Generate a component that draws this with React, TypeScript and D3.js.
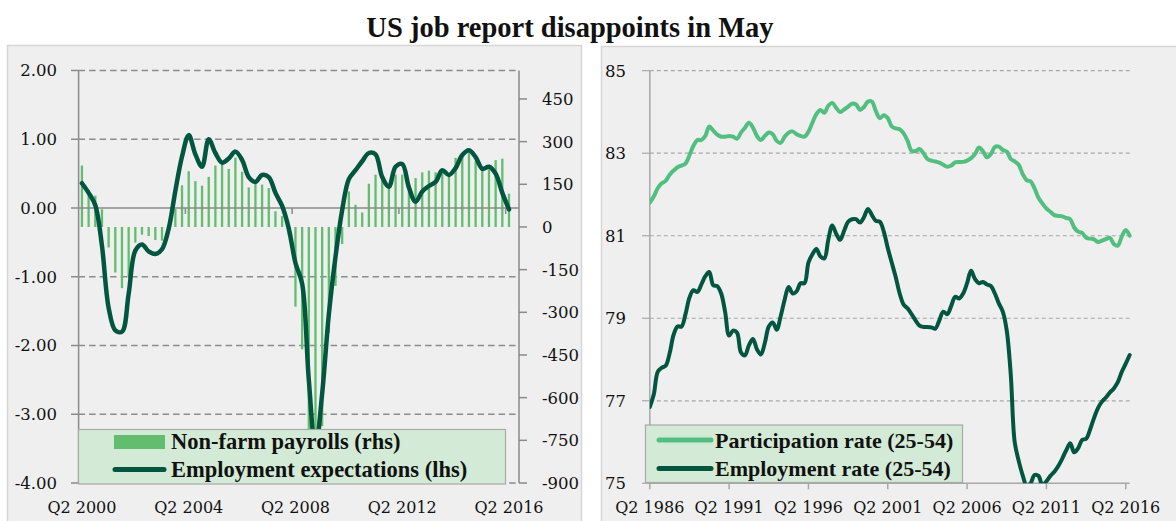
import * as d3 from "d3";

// ---- data ----
const leftTickLabels = ["Q2 2000", "Q2 2004", "Q2 2008", "Q2 2012", "Q2 2016"];
const rightTickLabels = ["Q2 1986", "Q2 1991", "Q2 1996", "Q2 2001", "Q2 2006", "Q2 2011", "Q2 2016"];
const lhsTicks = [2, 1, 0, -1, -2, -3, -4];
const rhsTicks = [450, 300, 150, 0, -150, -300, -450, -600, -750, -900];
const rateTicks = [85, 83, 81, 79, 77, 75];

// Non-farm payrolls, quarterly avg (thousands), Q2 2000 - Q2 2016
const payrolls = [
  216, 130, 110, 62, -72, -160, -215, -178, -55, -27,
  -32, -46, -48, -10, 63, 146, 196, 161, 145, 176,
  216, 226, 204, 244, 194, 139, 155, 149, 137, 55,
  38, -30, -280, -430, -740, -800, -700, -372, -207, -60,
  125, 78, 51, 152, 184, 169, 143, 184, 184, 149,
  172, 192, 198, 192, 202, 190, 243, 260, 266, 231,
  202, 202, 235, 240, 117,
];

// Employment expectations (std. dev.), same quarters
const expectations = [
  0.36, 0.22, 0.04, -0.55, -1.45, -1.78, -1.8, -1.25, -0.62, -0.53,
  -0.63, -0.67, -0.6, -0.3, 0.25, 0.75, 1.06, 0.78, 0.6, 1.0,
  0.8, 0.66, 0.72, 0.82, 0.7, 0.45, 0.38, 0.48, 0.45, 0.22,
  0.03, -0.3, -0.8, -1.1, -2.5, -3.5, -2.7, -1.55, -0.71, -0.03,
  0.42, 0.55, 0.68, 0.8, 0.78, 0.45, 0.31, 0.6, 0.64, 0.3,
  0.09, 0.24, 0.32, 0.38, 0.55, 0.48, 0.58, 0.77, 0.84, 0.74,
  0.57, 0.6, 0.5, 0.22, -0.02,
];

// Participation rate (25-54), quarterly from Q2 1986
const participation = [
  81.8, 81.95, 82.15, 82.27, 82.33, 82.48, 82.58, 82.66, 82.7, 82.75,
  82.95, 83.18, 83.32, 83.32, 83.42, 83.65, 83.55, 83.45, 83.4, 83.4,
  83.42, 83.4, 83.35, 83.5, 83.62, 83.74, 83.62, 83.42, 83.32, 83.42,
  83.5, 83.46, 83.3, 83.25, 83.4, 83.5, 83.53, 83.46, 83.42, 83.4,
  83.52, 83.74, 83.95, 84.05, 83.98, 84.15, 84.22, 84.1, 84.0, 84.06,
  84.13, 84.2, 84.18, 84.05, 84.12, 84.25, 84.25, 84.02, 83.85, 83.92,
  83.85, 83.65, 83.6, 83.58, 83.48, 83.3, 83.06, 83.05, 83.1, 83.0,
  82.86, 82.82, 82.8, 82.77, 82.72, 82.67, 82.7, 82.78, 82.79, 82.79,
  82.82, 82.88, 82.98, 83.14, 83.05, 82.9, 82.98, 83.15, 83.16, 83.08,
  83.04, 82.86, 82.8, 82.72, 82.5, 82.35, 82.32, 82.15, 81.92, 81.78,
  81.66, 81.58, 81.5, 81.48, 81.47, 81.43, 81.4, 81.2, 81.1, 81.07,
  80.95, 80.93, 80.91, 80.85, 80.88, 80.92, 80.95, 80.8, 80.76, 80.98,
  81.14, 81.0,
];

// Employment rate (25-54), quarterly from Q2 1986
const employment = [
  76.85, 77.15, 77.7, 77.8, 77.85, 78.15, 78.6, 78.8, 78.8, 79.1,
  79.5, 79.68, 79.64, 79.82, 80.02, 80.12, 79.8, 79.78, 79.6, 79.15,
  78.58, 78.7, 78.65, 78.17, 78.1, 78.35, 78.5, 78.25, 78.12, 78.4,
  78.8, 78.9, 78.72, 79.05, 79.45, 79.76, 79.6, 79.65, 79.85, 79.85,
  80.35, 80.55, 80.68, 80.5, 80.45, 80.9, 81.25, 81.05, 80.9, 81.12,
  81.34, 81.4, 81.4, 81.32, 81.45, 81.65, 81.5, 81.36, 81.34, 81.1,
  80.7, 80.35, 80.0, 79.6, 79.33, 79.24, 79.1, 78.95, 78.82, 78.79,
  78.79, 78.78, 78.75, 78.95, 79.16, 79.1, 79.3, 79.52, 79.48, 79.6,
  79.85, 80.15, 79.95, 79.85, 79.88, 79.82, 79.78, 79.6, 79.36, 79.16,
  78.7, 77.65, 76.0, 75.55, 75.2, 74.95, 75.0, 75.2, 75.18, 74.95,
  75.05, 75.18, 75.28, 75.42, 75.6, 75.8, 75.97, 75.75, 75.85, 76.05,
  76.08, 76.3, 76.58, 76.82, 76.98, 77.08, 77.2, 77.3, 77.45, 77.7,
  77.9, 78.11,
];

function quarterLabels(year: number, q: number, n: number): string[] {
  const out: string[] = [];
  for (let i = 0; i < n; i++) {
    const k = q - 1 + i;
    out.push(`Q${(k % 4) + 1} ${year + Math.floor(k / 4)}`);
  }
  return out;
}

// one extra empty slot after the last observation (Q3 2016)
const leftQuarters = quarterLabels(2000, 2, payrolls.length + 1);
const rightQuarters = quarterLabels(1986, 2, participation.length);

const C = {
  panel: "#efefef",
  panelBorder: "#d6d6d6",
  bar: "#62bd6f",
  dark: "#02563f",
  light: "#52bf80",
  axis: "#8a8a8a",
  grid: "#8c8c8c",
  grid2: "#a8a8a8",
  legend: "#d3ebd6",
  legendBorder: "#a9a9a9",
  text: "#111",
};

const TICK_FONT = "'DejaVu Serif', serif";
const BOLD_FONT = "'Liberation Serif', 'DejaVu Serif', serif";

const App = () => {
  // ---- left panel scales ----
  const xL = d3.scaleBand<string>().domain(leftQuarters).range([78.6, 519]).padding(0);
  const cx = (i: number) => (xL(leftQuarters[i]) as number) + xL.bandwidth() / 2;
  const yL = d3.scaleLinear().domain([-4, 2]).range([483, 70.5]);
  const yR = d3.scaleLinear().domain([-900, 550]).range([483, 70.5]);
  const lineL = d3
    .line<number>()
    .x((_, i) => cx(i))
    .y((d) => yL(d))
    .curve(d3.curveCatmullRom.alpha(0.5));

  const leftTickIdx = leftTickLabels.map((l) => leftQuarters.indexOf(l));

  // ---- right panel scales ----
  const xP = d3.scalePoint<string>().domain(rightQuarters).range([649.8, 1129.7]);
  const yP = d3.scaleLinear().domain([75, 85]).range([483.3, 70.7]);
  const lineP = d3
    .line<number>()
    .x((_, i) => xP(rightQuarters[i]) as number)
    .y((d) => yP(d))
    .curve(d3.curveCatmullRom.alpha(0.5));

  const [xl0, xl1] = xL.range();
  const [xp0, xp1] = xP.range();

  return (
    <svg
      width={1176}
      height={521}
      style={{ position: "absolute", left: 0, top: 0, background: "#fff" }}
    >
      <defs>
        <clipPath id="clipP">
          <rect x={xp0} y={yP(85) - 5} width={xp1 - xp0 + 6} height={yP(75) - yP(85) + 5} />
        </clipPath>
      </defs>

      {/* title */}
      <text
        x={570}
        y={37}
        textAnchor="middle"
        fontFamily={BOLD_FONT}
        fontWeight="bold"
        fontSize={28.5}
        fill={C.text}
      >
        US job report disappoints in May
      </text>

      {/* ===== left panel ===== */}
      <rect x={7.5} y={45.5} width={574} height={490} fill={C.panel} stroke={C.panelBorder} strokeWidth={1.5} />

      {lhsTicks.filter((t) => t !== 0).map((t) => (
        <line key={`g${t}`} x1={xl0} x2={xl1} y1={yL(t)} y2={yL(t)} stroke={C.grid} strokeWidth={1.5} strokeDasharray="6.5,4" />
      ))}
      {lhsTicks.map((t) => (
        <g key={`lt${t}`}>
          <line x1={71} x2={xl0} y1={yL(t)} y2={yL(t)} stroke={C.axis} strokeWidth={1.5} />
          <text x={57} y={yL(t)} dy="0.36em" textAnchor="end" fontFamily={TICK_FONT} fontSize={16.5} fill={C.text}>
            {t.toFixed(2)}
          </text>
        </g>
      ))}
      {rhsTicks.map((t) => (
        <g key={`rt${t}`}>
          <line x1={xl1} x2={xl1 + 8} y1={yR(t)} y2={yR(t)} stroke={C.axis} strokeWidth={1.5} />
          <text x={542} y={yR(t)} dy="0.36em" textAnchor="start" fontFamily={TICK_FONT} fontSize={16.5} fill={C.text}>
            {t}
          </text>
        </g>
      ))}

      {/* payroll bars */}
      {payrolls.map((v, i) => (
        <rect
          key={`b${i}`}
          x={cx(i) - 1.15}
          width={2.3}
          y={Math.min(yR(0), yR(v))}
          height={Math.abs(yR(v) - yR(0))}
          fill={C.bar}
        />
      ))}

      {/* axes */}
      <line x1={xl0} x2={xl0} y1={yL(2)} y2={yL(-4)} stroke={C.axis} strokeWidth={1.5} />
      <line x1={xl1} x2={xl1} y1={yL(2)} y2={yL(-4)} stroke={C.axis} strokeWidth={1.5} />
      <line x1={xl0} x2={xl1} y1={yL(0)} y2={yL(0)} stroke={C.axis} strokeWidth={1.5} />
      {leftTickIdx.slice(1).map((i) => (
        <line key={`xt${i}`} x1={xL(leftQuarters[i])} x2={xL(leftQuarters[i])} y1={yL(0)} y2={yL(0) + 6} stroke={C.axis} strokeWidth={1.5} />
      ))}

      {/* expectations line */}
      <path d={lineL(expectations) || ""} fill="none" stroke={C.dark} strokeWidth={4.5} strokeLinejoin="round" strokeLinecap="round" />

      {leftTickIdx.map((i, k) => (
        <text key={`xl${k}`} x={cx(i)} y={513} textAnchor="middle" fontFamily={TICK_FONT} fontSize={16} fill={C.text}>
          {leftTickLabels[k]}
        </text>
      ))}

      {/* left legend */}
      <rect x={78.5} y={429.5} width={427} height={54.5} fill={C.legend} stroke={C.legendBorder} strokeWidth={1.2} />
      <rect x={114} y={435} width={51} height={14} fill={C.bar} />
      <text x={171} y={449} fontFamily={BOLD_FONT} fontWeight="bold" fontSize={22.5} fill={C.text}>
        Non-farm payrolls (rhs)
      </text>
      <line x1={115} x2={164} y1={469.5} y2={469.5} stroke={C.dark} strokeWidth={5} strokeLinecap="round" />
      <text x={171} y={477} fontFamily={BOLD_FONT} fontWeight="bold" fontSize={22.5} fill={C.text}>
        Employment expectations (lhs)
      </text>

      {/* ===== right panel ===== */}
      <rect x={601.5} y={46.5} width={600} height={490} fill={C.panel} stroke={C.panelBorder} strokeWidth={1.5} />

      {rateTicks.filter((t) => t !== 75).map((t) => (
        <line key={`pg${t}`} x1={xp0} x2={xp1} y1={yP(t)} y2={yP(t)} stroke={C.grid2} strokeWidth={1.2} strokeDasharray="4,3" />
      ))}
      {rateTicks.map((t) => (
        <g key={`pt${t}`}>
          <line x1={642} x2={xp0} y1={yP(t)} y2={yP(t)} stroke={C.grid2} strokeWidth={1.2} />
          <text x={626} y={yP(t)} dy="0.36em" textAnchor="end" fontFamily={TICK_FONT} fontSize={16.5} fill={C.text}>
            {t}
          </text>
        </g>
      ))}
      <line x1={xp0} x2={xp0} y1={yP(85)} y2={yP(75)} stroke={C.grid2} strokeWidth={1.5} />
      <line x1={xp0} x2={xp1} y1={yP(75)} y2={yP(75)} stroke={C.grid2} strokeWidth={1.5} />
      {rightTickLabels.map((l) => (
        <g key={`px${l}`}>
          <line x1={xP(l)} x2={xP(l)} y1={yP(75)} y2={yP(75) + 6} stroke={C.grid2} strokeWidth={1.5} />
          <text x={xP(l)} y={513} textAnchor="middle" fontFamily={TICK_FONT} fontSize={16} fill={C.text}>
            {l}
          </text>
        </g>
      ))}

      <g clipPath="url(#clipP)">
        <path d={lineP(participation) || ""} fill="none" stroke={C.light} strokeWidth={4} strokeLinejoin="round" strokeLinecap="round" />
        <path d={lineP(employment) || ""} fill="none" stroke={C.dark} strokeWidth={4} strokeLinejoin="round" strokeLinecap="round" />
      </g>

      {/* right legend */}
      <rect x={645.5} y={425} width={317} height={57.5} fill={C.legend} stroke={C.legendBorder} strokeWidth={1.2} />
      <line x1={659} x2={711} y1={440} y2={440} stroke={C.light} strokeWidth={5} strokeLinecap="round" />
      <text x={715} y={447.5} fontFamily={BOLD_FONT} fontWeight="bold" fontSize={22} fill={C.text}>
        Participation rate (25-54)
      </text>
      <line x1={659} x2={711} y1={468.5} y2={468.5} stroke={C.dark} strokeWidth={5} strokeLinecap="round" />
      <text x={715} y={475.5} fontFamily={BOLD_FONT} fontWeight="bold" fontSize={22} fill={C.text}>
        Employment rate (25-54)
      </text>
    </svg>
  );
};

export default App;
